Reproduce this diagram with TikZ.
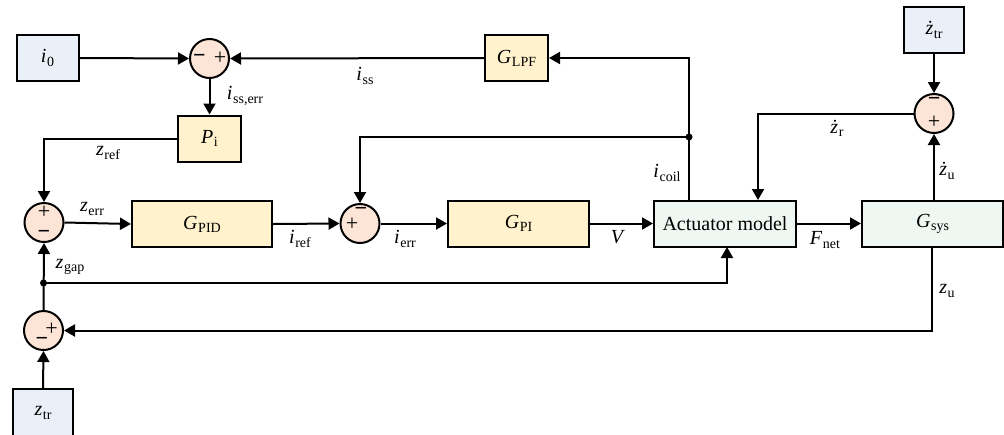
\documentclass[tikz,border=0pt]{standalone}
\usepackage{fontspec}
\setmainfont{Liberation Serif}
\usetikzlibrary{arrows.meta}

\definecolor{inblue}{RGB}{234,240,248}
\definecolor{ctrlyel}{RGB}{255,242,204}
\definecolor{plantgrn}{RGB}{238,247,242}
\definecolor{sumpeach}{RGB}{252,228,214}

% variable with an upright subscript
\newcommand{\sig}[2]{\textit{#1}\kern0.3pt\raisebox{-0.35ex}{\scriptsize #2}}
\newcommand{\msign}{\textbf{\char"2212}}

\tikzset{
  blk/.style={draw=black, line width=1pt, inner sep=0pt, font=\fontsize{10}{12}\selectfont},
  inbox/.style={blk, fill=inblue, minimum width=31pt, minimum height=23pt},
  ctrl/.style={blk, fill=ctrlyel, minimum height=23pt},
  plant/.style={blk, fill=plantgrn, minimum width=70.5pt, minimum height=23pt},
  sumnode/.style={circle, draw=black, line width=1pt, fill=sumpeach, minimum size=19.5pt, inner sep=0pt},
  sgn/.style={inner sep=0pt, font=\fontsize{11}{11}\selectfont},
  lab/.style={inner sep=0pt, font=\fontsize{10}{12}\selectfont},
  wire/.style={line width=1pt},
  arr/.style={wire, -{Triangle[length=5.5pt,width=6pt]}},
  junc/.style={circle, fill=black, inner sep=0pt, minimum size=3.5pt},
}

\begin{document}
\begin{tikzpicture}[x=0.5pt, y=-0.5pt]
\useasboundingbox (0,0) rectangle (1004,434);
\clip (0,0) rectangle (1004,434);

% blocks
\node[inbox] (i0) at (47.5,58) {\sig{i}{0}};
\node[ctrl, minimum width=31.5pt] (lpf) at (516.5,58) {\sig{G}{LPF}};
\node[ctrl, minimum width=31.5pt] (pi) at (209.5,138.5) {\sig{P}{i}};
\node[ctrl, minimum width=70pt] (pid) at (202,224) {\sig{G}{PID}};
\node[ctrl, minimum width=70.5pt] (gpi) at (518.5,223.5) {\sig{G}{PI}};
\node[plant, minimum width=71pt] (act) at (725,223.5) {Actuator model};
\node[plant] (gsys) at (932.5,223.5) {\sig{G}{sys}};
\node[inbox, minimum width=30pt] (ztrd) at (934,30) {\sig{\.z}{tr}};
\node[inbox, minimum width=30pt, minimum height=24pt] (ztr) at (43,413) {\sig{z}{tr}};

% summing junctions
\node[sumnode] (s1) at (209.5,58.5) {};
\node[sgn] at (199.5,58.5) {\msign};
\node[sgn] at (220,58.5) {+};

\node[sumnode] (s2) at (44,222.5) {};
\node[sgn] at (44,212) {+};
\node[sgn] at (44,234) {\msign};

\node[sumnode] (s3) at (360,223.5) {};
\node[sgn] at (352,224) {+};
\node[sgn] at (361,211) {\msign};

\node[sumnode] (s4) at (43.5,330.5) {};
\node[sgn] at (51.5,329.5) {+};
\node[sgn] at (42,341) {\msign};

\node[sumnode] (s5) at (934,113.5) {};
\node[sgn] at (934,101) {\msign};
\node[sgn] at (934,122.5) {+};

% branch points
\node[junc] (jc) at (689,137) {};
\node[junc] (jg) at (43.5,283) {};
\coordinate (coil) at (689,200);
\coordinate (rin) at (758,200);
\coordinate (gin) at (727,247);

% steady-state current loop
\draw[arr] (i0.east) -- (s1.west);
\draw[arr] (lpf.west) -- (s1.east);
\draw[arr] (coil) |- (lpf.east);
\draw[arr] (s1.south) -- (pi.north);
\draw[arr] (pi.west) -| (s2.north);

% main forward path
\draw[arr] (s2.east) -- (pid.west);
\draw[arr] (pid.east) -- (s3.west);
\draw[arr] (s3.east) -- (gpi.west);
\draw[arr] (gpi.east) -- (act.west);
\draw[arr] (act.east) -- (gsys.west);

% current feedback
\draw[arr] (jc.center) -| (s3.north);

% velocity path
\draw[arr] (ztrd.south) -- (s5.north);
\draw[arr] (gsys.north -| s5) -- (s5.south);
\draw[arr] (s5.west) -| (rin);

% gap feedback
\draw[arr] (gsys.south -| 932,0) |- (s4.east);
\draw[arr] (ztr.north) -- (s4.south);
\draw[arr] (s4.north) -- (s2.south);
\draw[arr] (jg.center) -| (gin);

% signal labels
\node[lab] at (365,76) {\sig{i}{ss}};
\node[lab] at (245,96) {\sig{i}{ss,err}};
\node[lab] at (108,153) {\sig{z}{ref}};
\node[lab] at (92,209) {\sig{z}{err}};
\node[lab] at (300,239) {\sig{i}{ref}};
\node[lab] at (405,239) {\sig{i}{err}};
\node[lab] at (618,237) {\textit{V}};
\node[lab] at (667,173) {\sig{i}{coil}};
\node[lab] at (825,240) {\sig{F}{net}};
\node[lab] at (837,128) {\sig{\.z}{r}};
\node[lab] at (947,171) {\sig{\.z}{u}};
\node[lab] at (947,291) {\sig{z}{u}};
\node[lab] at (70,267) {\sig{z}{gap}};
\end{tikzpicture}
\end{document}
